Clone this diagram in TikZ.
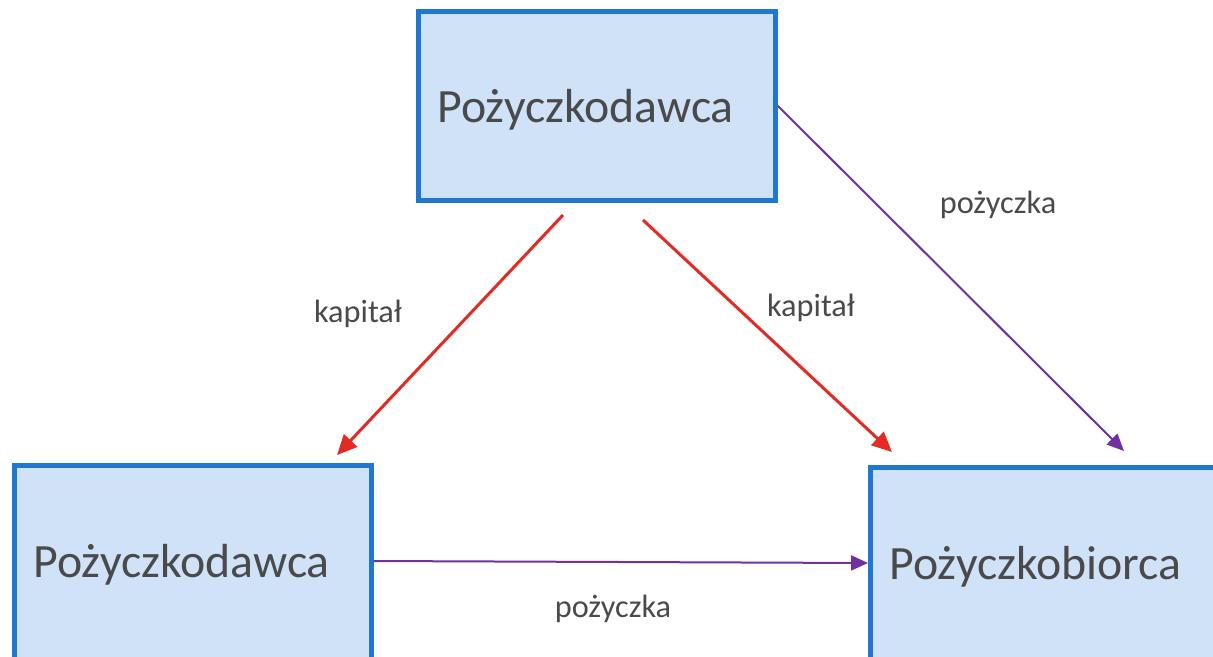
\documentclass[tikz,border=0pt]{standalone}
\usepackage{fontspec}
\setmainfont{Carlito}
\usetikzlibrary{arrows.meta}
\definecolor{boxblue}{HTML}{1F77D0}
\definecolor{boxfill}{HTML}{CFE2F8}
\definecolor{txtgray}{HTML}{4A4A4A}
\definecolor{capred}{HTML}{E32B24}
\definecolor{loanpurple}{HTML}{7030A0}
\tikzset{
  party/.style={draw=boxblue, fill=boxfill, line width=0.1cm, rectangle,
    minimum width=7.14cm, minimum height=3.78cm, inner xsep=0.38cm,
    text width=6.38cm, align=left, font=\fontsize{27.2}{32}\selectfont, text=txtgray,
    text height=0.8cm, text depth=0.16cm},
  lowparty/.style={party, minimum height=4.3cm, text height=0.5cm, text depth=0.34cm},
  flowlabel/.style={font=\fontsize{18.4}{22}\selectfont, text=txtgray},
  capital/.style={draw=capred, line width=0.06cm, -{Triangle[length=0.4cm,width=0.36cm]}},
  loan/.style={draw=loanpurple, line width=0.04cm, -{Triangle[length=0.34cm,width=0.3cm]}}
}
\begin{document}
\begin{tikzpicture}[x=0.02cm,y=-0.02cm]
	\useasboundingbox (0,0) rectangle (1213,656);
	\clip (0,0) rectangle (1213,656);
	\node [party] (topLender) at (597,106) {Pożyczkodawca};
	\node [lowparty] (leftLender) at (193,573) {Pożyczkodawca};
	\node [lowparty] (borrower) at (1049,575) {Pożyczkobiorca};
	% free ends of the arrows
	\coordinate (capAstart) at (563,215);
	\coordinate (capAend) at (337,455);
	\coordinate (capBstart) at (643,220);
	\coordinate (capBend) at (892,452);
	\coordinate (loanTopEnd) at (1124,451);
	\draw [capital] (capAstart) -- (capAend);
	\draw [capital] (capBstart) -- (capBend);
	\draw [loan] (topLender.east) -- (loanTopEnd);
	\draw [loan] ([yshift=0.24cm]leftLender.east) -- ([yshift=0.24cm]borrower.west);
	\node [flowlabel] (capAlabel) at (358,314) {kapitał};
	\node [flowlabel] (capBlabel) at (811,308) {kapitał};
	\node [flowlabel] (loanTopLabel) at (998,205) {pożyczka};
	\node [flowlabel] (loanLabel) at (613,609) {pożyczka};
\end{tikzpicture}
\end{document}
